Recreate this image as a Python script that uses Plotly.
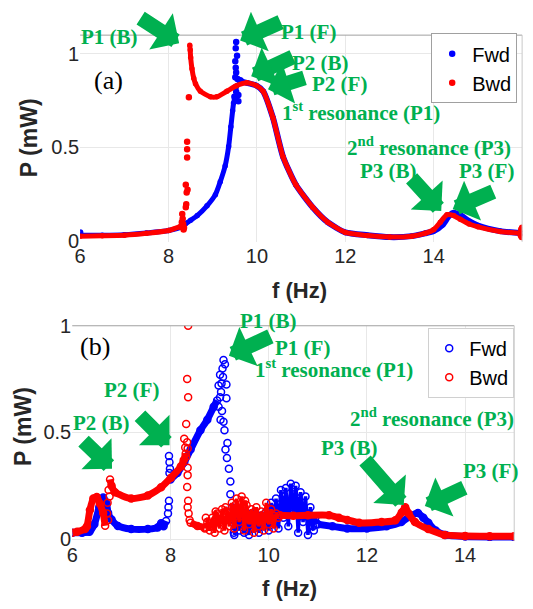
import plotly.graph_objects as go

# ---------------- data: panel (a) ----------------
# Forward sweep (blue)
fwd_a_rise_f = [6.0, 6.5, 7.0, 7.5, 8.0, 8.3, 8.39, 8.5, 8.65, 8.87, 9.06, 9.17, 9.28, 9.36, 9.41, 9.45, 9.47]
fwd_a_rise_p = [0.03, 0.03, 0.033, 0.042, 0.055, 0.075, 0.093, 0.11, 0.135, 0.187, 0.247, 0.316, 0.40, 0.505, 0.61, 0.695, 0.737]
fwd_a_dots_f = [6.0, 9.53, 9.52, 9.51, 9.52, 9.53, 9.51, 9.56, 9.60, 9.63, 9.52, 9.53, 9.58, 9.58, 9.53, 9.49, 9.50, 9.55, 9.66]
fwd_a_dots_p = [0.045, 1.063, 1.03, 0.96, 0.926, 0.90, 0.875, 0.866, 0.86, 0.857, 0.823, 0.797, 0.78, 0.746, 0.754, 0.77, 0.75, 0.99, 0.85]
fwd_a_fall_f = [9.65, 9.77, 9.99, 10.14, 10.36, 10.59, 10.88, 11.26, 11.6, 12.0, 12.5, 13.0, 13.5, 13.8, 14.0, 14.2, 14.35, 14.45, 14.6, 14.8, 15.0, 15.5, 16.0]
fwd_a_fall_p = [0.85, 0.845, 0.83, 0.80, 0.66, 0.45, 0.30, 0.18, 0.10, 0.045, 0.03, 0.02, 0.025, 0.04, 0.052, 0.085, 0.135, 0.15, 0.138, 0.105, 0.082, 0.052, 0.04]

# Backward sweep (red)
bwd_a_low_f = [6.0, 6.5, 7.0, 7.5, 8.0, 8.3]
bwd_a_low_p = [0.025, 0.027, 0.03, 0.04, 0.055, 0.08]
bwd_a_dots_f = [8.31, 8.32, 8.30, 8.33, 8.35, 8.28, 8.34, 8.39, 8.40, 8.41, 8.43, 8.39, 8.42, 8.42, 8.42, 8.46, 15.98, 15.99, 16.0, 15.97]
bwd_a_dots_p = [0.144, 0.118, 0.10, 0.09, 0.07, 0.075, 0.06, 0.18, 0.196, 0.258, 0.273, 0.30, 0.445, 0.49, 0.53, 0.768, 0.06, 0.02, 0.07, 0.03]
bwd_a_high_f = [8.48, 8.49, 8.50, 8.53, 8.57, 8.61, 8.72, 8.95, 9.09, 9.32, 9.54, 9.77, 9.99, 10.14, 10.36, 10.59, 10.88, 11.26, 11.6, 12.0, 12.5, 13.0, 13.5, 13.8, 14.0, 14.15, 14.3, 14.45, 14.6, 14.8, 15.0, 15.5, 16.0]
bwd_a_high_p = [1.046, 1.02, 0.98, 0.92, 0.87, 0.84, 0.80, 0.77, 0.77, 0.80, 0.83, 0.845, 0.83, 0.80, 0.66, 0.45, 0.30, 0.18, 0.10, 0.045, 0.028, 0.02, 0.025, 0.04, 0.06, 0.10, 0.14, 0.135, 0.115, 0.09, 0.075, 0.05, 0.04]

# ---------------- data: panel (b) ----------------
fwd_b_left_f = [6.0, 6.2, 6.35, 6.45, 6.55, 6.63, 6.7, 6.73, 6.8, 6.93, 7.2, 7.54, 7.74, 7.81, 7.86, 7.91]
fwd_b_left_p = [0.03, 0.03, 0.035, 0.07, 0.15, 0.195, 0.165, 0.122, 0.092, 0.062, 0.047, 0.047, 0.055, 0.075, 0.06, 0.085]
fwd_b_rise_f = [8.0, 8.14, 8.28, 8.41, 8.61, 8.75, 8.88, 8.95]
fwd_b_rise_p = [0.28, 0.31, 0.36, 0.42, 0.51, 0.56, 0.62, 0.65]
fwd_b_dots_f = [7.95, 7.97, 7.98, 7.98, 7.97, 7.99, 7.96, 9.08, 9.11, 9.06, 9.01, 9.04, 8.98, 9.14, 9.01, 9.14, 8.98, 9.08, 9.02, 9.05, 9.12, 9.15, 9.19, 9.22, 9.22, 9.25, 9.29, 9.29, 9.10, 9.16, 9.03, 9.07]
fwd_b_dots_p = [0.12, 0.18, 0.31, 0.36, 0.39, 0.33, 0.15, 0.84, 0.82, 0.80, 0.77, 0.73, 0.72, 0.725, 0.665, 0.66, 0.62, 0.55, 0.56, 0.60, 0.42, 0.38, 0.33, 0.27, 0.21, 0.15, 0.09, 0.03, 0.51, 0.45, 0.69, 0.76]
fwd_b_noise_f = [9.3, 9.35, 9.4, 9.45, 9.5, 9.55, 9.6, 9.65, 9.7, 9.75, 9.8, 9.85, 9.9, 9.95, 10.0, 10.05, 10.1, 10.15, 10.2, 10.25, 10.3, 10.35, 10.4, 10.45, 10.5, 10.55, 10.6, 10.65, 10.7, 10.75, 10.8, 10.85, 10.9, 10.95, 11.0]
fwd_b_noise_p = [0.02, 0.10, 0.04, 0.13, 0.03, 0.09, 0.02, 0.12, 0.05, 0.10, 0.03, 0.11, 0.06, 0.13, 0.04, 0.17, 0.08, 0.19, 0.05, 0.23, 0.10, 0.24, 0.06, 0.26, 0.12, 0.25, 0.03, 0.22, 0.08, 0.20, 0.02, 0.15, 0.06, 0.10, 0.07]
fwd_b_noise2_f = [9.32, 9.42, 9.52, 9.62, 9.72, 9.82, 9.92, 10.02, 10.12, 10.22, 10.32, 10.42, 10.52, 10.62, 10.72, 10.82, 10.92]
fwd_b_noise2_p = [0.06, 0.08, 0.12, 0.05, 0.13, 0.07, 0.10, 0.08, 0.14, 0.12, 0.20, 0.15, 0.21, 0.18, 0.12, 0.10, 0.04]
fwd_b_right_f = [11.0, 11.3, 11.6, 12.0, 12.4, 12.7, 12.9, 13.04, 13.15, 13.25, 13.4, 13.6, 14.0, 14.5, 15.0]
fwd_b_right_p = [0.07, 0.06, 0.05, 0.05, 0.06, 0.08, 0.11, 0.122, 0.10, 0.077, 0.04, 0.02, 0.012, 0.01, 0.01]

bwd_b_right_f = [15.0, 14.5, 14.0, 13.58, 13.25, 12.98, 12.85, 12.78, 12.71, 12.58, 12.3, 11.84, 11.6, 11.43, 11.23, 10.8, 10.5, 10.23]
bwd_b_right_p = [0.014, 0.014, 0.015, 0.02, 0.047, 0.08, 0.12, 0.15, 0.125, 0.088, 0.08, 0.077, 0.09, 0.10, 0.112, 0.112, 0.11, 0.112]
bwd_b_noise_f = [8.7, 8.75, 8.8, 8.85, 8.9, 8.95, 9.0, 9.05, 9.1, 9.15, 9.2, 9.25, 9.3, 9.35, 9.4, 9.45, 9.5, 9.55, 9.6, 9.65, 9.7, 9.75, 9.8, 9.85, 9.9, 9.95, 10.0, 10.05, 10.1, 10.15, 10.2]
bwd_b_noise_p = [0.05, 0.08, 0.04, 0.10, 0.03, 0.12, 0.05, 0.14, 0.04, 0.13, 0.06, 0.17, 0.05, 0.19, 0.08, 0.20, 0.04, 0.16, 0.07, 0.14, 0.03, 0.15, 0.06, 0.13, 0.04, 0.17, 0.07, 0.14, 0.05, 0.12, 0.10]
bwd_b_noise2_f = [8.72, 8.82, 8.92, 9.02, 9.12, 9.22, 9.32, 9.42, 9.52, 9.62, 9.72, 9.82, 9.92, 10.02, 10.12]
bwd_b_noise2_p = [0.10, 0.06, 0.13, 0.09, 0.15, 0.10, 0.16, 0.12, 0.18, 0.09, 0.13, 0.10, 0.12, 0.09, 0.11]
bwd_b_low_f = [8.41, 8.55, 8.7]
bwd_b_low_p = [0.077, 0.062, 0.055]
bwd_b_dots_f = [8.36, 8.34, 8.36, 8.32, 8.34, 8.35, 8.32, 8.35, 8.35, 8.34, 8.36, 8.35, 8.37, 8.39, 8.28, 8.30, 6.74, 6.72, 6.71, 6.73, 6.76]
bwd_b_dots_p = [1.0, 0.75, 0.665, 0.54, 0.454, 0.425, 0.386, 0.335, 0.30, 0.244, 0.18, 0.15, 0.12, 0.09, 0.47, 0.43, 0.23, 0.17, 0.12, 0.09, 0.20]
bwd_b_upper_f = [8.31, 8.27, 8.21, 8.01, 7.81, 7.54, 7.2, 6.87, 6.8, 6.77]
bwd_b_upper_p = [0.40, 0.37, 0.34, 0.288, 0.243, 0.205, 0.19, 0.22, 0.25, 0.28]
bwd_b_lower_f = [6.67, 6.63, 6.56, 6.5, 6.43, 6.36, 6.3, 6.26, 6.1, 6.0]
bwd_b_lower_p = [0.063, 0.122, 0.167, 0.198, 0.19, 0.137, 0.06, 0.047, 0.035, 0.03]

x_ticks_a = [6, 8, 10, 12, 14, 16]
x_ticks_b = [6, 8, 10, 12, 14]
y_ticks = [0, 0.5, 1]
y_ticktext = ["0", "0.5", "1"]

BLUE = "#0000ff"
RED = "#ff0000"
GREEN = "#00B050"

fig = go.Figure()

def add_line(f, p, color, xa, ya, width, msize, msym, smooth=True):
    fig.add_trace(go.Scatter(
        x=f, y=p, mode="lines+markers", xaxis=xa, yaxis=ya, showlegend=False,
        line=dict(color=color, width=width, shape="spline" if smooth else "linear", smoothing=0.6),
        marker=dict(color=color, size=msize, symbol=msym, line=dict(color=color, width=1.5)),
        hoverinfo="skip"))

def add_dots(f, p, color, xa, ya, msize, msym, name=None, legend=None):
    fig.add_trace(go.Scatter(
        x=f, y=p, mode="markers", xaxis=xa, yaxis=ya,
        showlegend=name is not None, name=name, legend=legend,
        marker=dict(color=color, size=msize, symbol=msym, line=dict(color=color, width=1.5)),
        hoverinfo="skip"))

# panel (a)
add_dots(fwd_a_dots_f, fwd_a_dots_p, BLUE, "x", "y", 5, "circle", "Fwd", "legend")
add_line(fwd_a_rise_f, fwd_a_rise_p, BLUE, "x", "y", 5, 4, "circle")
add_line(fwd_a_fall_f, fwd_a_fall_p, BLUE, "x", "y", 6, 4, "circle")
add_dots(bwd_a_dots_f, bwd_a_dots_p, RED, "x", "y", 5, "circle", "Bwd", "legend")
add_line(bwd_a_low_f, bwd_a_low_p, RED, "x", "y", 5, 4, "circle")
add_line(bwd_a_high_f, bwd_a_high_p, RED, "x", "y", 5, 4, "circle")

# panel (b)
OC = "circle-open"
add_dots(fwd_b_dots_f, fwd_b_dots_p, BLUE, "x2", "y2", 7, OC, "Fwd", "legend2")
add_line(fwd_b_left_f, fwd_b_left_p, BLUE, "x2", "y2", 7, 7, OC)
add_line(fwd_b_rise_f, fwd_b_rise_p, BLUE, "x2", "y2", 7, 7, OC)
add_line(fwd_b_noise_f, fwd_b_noise_p, BLUE, "x2", "y2", 3.5, 7, OC, smooth=False)
add_line(fwd_b_noise2_f, fwd_b_noise2_p, BLUE, "x2", "y2", 3.5, 7, OC, smooth=False)
add_line(fwd_b_right_f, fwd_b_right_p, BLUE, "x2", "y2", 7, 7, OC)
add_dots(bwd_b_dots_f, bwd_b_dots_p, RED, "x2", "y2", 7, OC, "Bwd", "legend2")
add_line(bwd_b_right_f, bwd_b_right_p, RED, "x2", "y2", 7, 7, OC)
add_line(bwd_b_noise_f, bwd_b_noise_p, RED, "x2", "y2", 3.5, 7, OC, smooth=False)
add_line(bwd_b_noise2_f, bwd_b_noise2_p, RED, "x2", "y2", 3.5, 7, OC, smooth=False)
add_line(bwd_b_low_f, bwd_b_low_p, RED, "x2", "y2", 7, 7, OC)
add_line(bwd_b_upper_f, bwd_b_upper_p, RED, "x2", "y2", 7, 7, OC)
add_line(bwd_b_lower_f, bwd_b_lower_p, RED, "x2", "y2", 7, 7, OC)

W, H = 533, 609
tickfont = dict(family="Liberation Sans, Arial", size=20, color="#262626")
axcommon = dict(showgrid=True, gridcolor="#e8e8e8", gridwidth=1, zeroline=False,
                showline=False, ticks="", tickfont=tickfont)

fig.update_layout(
    width=W, height=H, margin=dict(l=0, r=0, t=0, b=0),
    paper_bgcolor="white", plot_bgcolor="white",
    xaxis=dict(domain=[75 / W, 522 / W], range=[6, 16], tickvals=x_ticks_a, anchor="y", **axcommon),
    yaxis=dict(domain=[1 - 239 / H, 1 - 25 / H], range=[-0.005, 1.1], tickvals=y_ticks,
               ticktext=y_ticktext, anchor="x", **axcommon),
    xaxis2=dict(domain=[67 / W, 514 / W], range=[6, 15], tickvals=x_ticks_b, anchor="y2", **axcommon),
    yaxis2=dict(domain=[1 - 549 / H, 1 - 326 / H], range=[-0.009, 1.0], tickvals=y_ticks,
                ticktext=y_ticktext, anchor="x2", **axcommon),
    legend=dict(x=517 / W, y=1 - 23 / H, xanchor="right", yanchor="top",
                bgcolor="white", bordercolor="#a0a0a0", borderwidth=1, itemwidth=30,
                itemsizing="trace", font=dict(family="Liberation Sans, Arial", size=20, color="black"),
                tracegroupgap=0),
    legend2=dict(x=514 / W, y=1 - 328 / H, xanchor="right", yanchor="top",
                 bgcolor="white", bordercolor="#d0d0d0", borderwidth=1, itemwidth=30,
                 itemsizing="trace", font=dict(family="Liberation Sans, Arial", size=20, color="black"),
                 tracegroupgap=0),
)

# box lines (top and right)
for xr, yr in (("x domain", "y domain"), ("x2 domain", "y2 domain")):
    fig.add_shape(type="line", xref=xr, yref=yr, x0=0, x1=1, y0=1, y1=1, line=dict(color="#a0a0a0", width=1))
    fig.add_shape(type="line", xref=xr, yref=yr, x0=1, x1=1, y0=0, y1=1, line=dict(color="#c8c8c8", width=1))

serif = "Liberation Serif, Times New Roman"
def label(text, px, py, size=21, color=GREEN, bold=True, family=serif, angle=0):
    fig.add_annotation(x=px / W, y=1 - py / H, xref="paper", yref="paper", showarrow=False,
                       text=f"<b>{text}</b>" if bold else text, textangle=angle,
                       font=dict(family=family, size=size, color=color),
                       xanchor="center", yanchor="middle")

def arrow(xt, yt, ax, ay, xr, yr):
    fig.add_annotation(x=xt, y=yt, xref=xr, yref=yr, ax=ax, ay=ay, text="", showarrow=True,
                       arrowhead=1, arrowsize=0.48, arrowwidth=15, arrowcolor=GREEN, standoff=0)

# panel (a) labels
label("P1 (B)", 105, 27)
label("P1 (F)", 306, 22)
label("P2 (B)", 318, 54)
label("P2 (F)", 337, 76)
label("1<sup>st</sup> resonance (P1)", 359, 104)
label("2<sup>nd</sup> resonance (P3)", 428, 140)
label("P3 (B)", 387, 166)
label("P3 (F)", 486, 166)
label("(a)", 104, 72, size=26, color="black", bold=False)
arrow(8.24, 1.057, -40, -26, "x", "y")
arrow(9.62, 1.072, 42, -19, "x", "y")
arrow(9.87, 0.88, 43, -20, "x", "y")
arrow(10.25, 0.81, 38, -12, "x", "y")
arrow(14.17, 0.16, -31, -34, "x", "y")
arrow(14.43, 0.17, 42, -18, "x", "y")

# panel (b) labels
label("(b)", 90, 347, size=26, color="black", bold=False)
label("P1 (B)", 265, 321)
label("P1 (F)", 300, 349)
label("1<sup>st</sup> resonance (P1)", 332, 370)
label("2<sup>nd</sup> resonance (P3)", 431, 421)
label("P3 (B)", 347, 453)
label("P3 (F)", 490, 476)
label("P2 (F)", 127, 393)
label("P2 (B)", 97, 427)
arrow(8.44, 1.005, 41, -16, "x2", "y2")
arrow(9.19, 0.86, 43, -20, "x2", "y2")
arrow(7.98, 0.44, -31, -31, "x2", "y2")
arrow(6.81, 0.33, -30, -29, "x2", "y2")
arrow(12.75, 0.16, -40, -46, "x2", "y2")
arrow(13.18, 0.155, 41, -19, "x2", "y2")

# axis titles
sans = "Liberation Sans, Arial"
label("f (Hz)", 297, 289, size=22, color="#262626", family=sans)
label("f (Hz)", 287, 598, size=22, color="#262626", family=sans)
label("P (mW)", 24, 131, size=23, color="#262626", family=sans, angle=-90)
label("P (mW)", 17, 430, size=23, color="#262626", family=sans, angle=-90)

fig.write_html("out.html")
